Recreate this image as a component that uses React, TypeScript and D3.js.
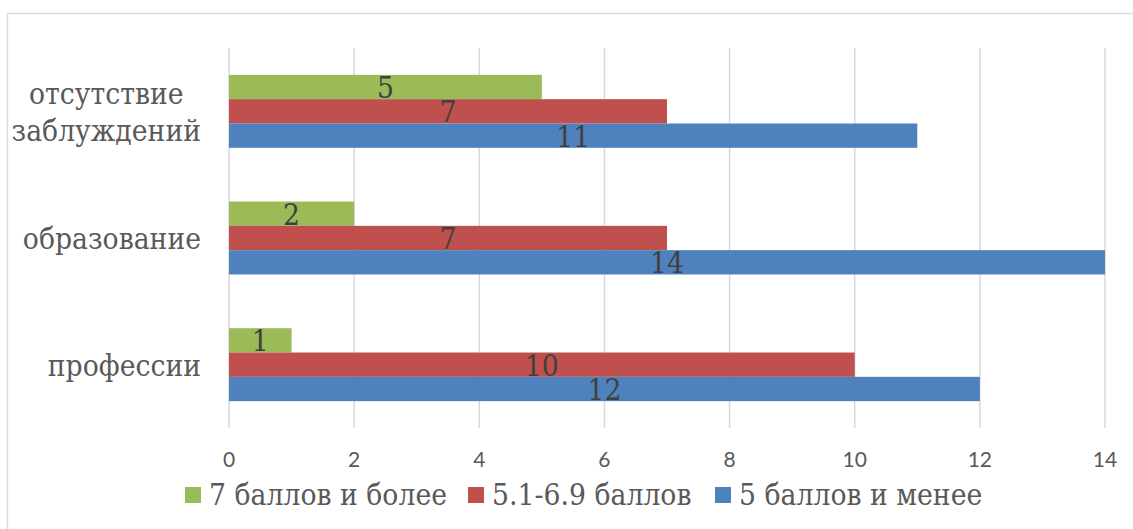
import React, { useEffect, useRef } from "react";
import * as d3 from "d3";

const categories = ["отсутствие заблуждений", "образование", "профессии"];
const categoryLines: string[][] = [["отсутствие", "заблуждений"], ["образование"], ["профессии"]];
const seriesNames = ["7 баллов и более", "5.1-6.9 баллов", "5 баллов и менее"];
const seriesColors = ["#9BBB59", "#C0504D", "#4F81BD"];
const green7 = [5, 2, 1];
const red51 = [7, 7, 10];
const blue5 = [11, 14, 12];
const tickValues = [0, 2, 4, 6, 8, 10, 12, 14];

const W = 1133;
const H = 529;
const SERIF = "'DejaVu Serif', serif";
const SERIF_SIZE = 30;
const SQUEEZE = 0.89;

function squeeze(sel: d3.Selection<SVGTextElement, any, any, any>) {
  sel.each(function () {
    const w = this.getComputedTextLength();
    d3.select(this).attr("textLength", w * SQUEEZE).attr("lengthAdjust", "spacingAndGlyphs");
  });
  return sel;
}

export default function App() {
  const ref = useRef<SVGSVGElement>(null);
  useEffect(() => {
    const svg = d3.select(ref.current);
    svg.selectAll("*").remove();
    const seriesValues = [green7, red51, blue5];

    const x = d3.scaleLinear().domain([0, 14]).range([229, 1105]);
    const y = d3
      .scaleBand<string>()
      .domain(categories)
      .range([48, 428])
      .paddingInner(0.424)
      .paddingOuter(0.212);
    const ys = d3
      .scaleBand<string>()
      .domain(seriesNames)
      .range([0, y.bandwidth()])
      .padding(0);

    svg
      .append("rect")
      .attr("x", 7.5)
      .attr("y", 13.5)
      .attr("width", W + 20)
      .attr("height", H + 20)
      .attr("fill", "#fff")
      .attr("stroke", "#d9d9d9")
      .attr("stroke-width", 1.3);

    svg
      .append("g")
      .selectAll("line")
      .data(tickValues)
      .join("line")
      .attr("x1", (d) => x(d))
      .attr("x2", (d) => x(d))
      .attr("y1", 48)
      .attr("y2", 428)
      .attr("stroke", "#d9d9d9")
      .attr("stroke-width", 1.5);

    svg
      .append("g")
      .selectAll("text")
      .data(tickValues)
      .join("text")
      .attr("x", (d) => x(d))
      .attr("y", 467)
      .attr("text-anchor", "middle")
      .attr("font-family", "Lato, sans-serif")
      .attr("font-size", 21)
      .attr("fill", "#595959")
      .text((d) => String(d));

    seriesNames.forEach((s, si) => {
      const g = svg.append("g");
      const vals = seriesValues[si];
      g.selectAll("rect")
        .data(categories)
        .join("rect")
        .attr("x", x(0))
        .attr("y", (c) => (y(c) as number) + (ys(s) as number))
        .attr("width", (c, i) => x(vals[i]) - x(0))
        .attr("height", ys.bandwidth())
        .attr("fill", seriesColors[si]);
      const labels = g
        .selectAll<SVGTextElement, string>("text")
        .data(categories)
        .join("text")
        .attr("x", (c, i) => (x(vals[i]) + x(0)) / 2)
        .attr("y", (c) => (y(c) as number) + (ys(s) as number) + ys.bandwidth() / 2 + 11)
        .attr("text-anchor", "middle")
        .attr("font-family", SERIF)
        .attr("font-size", SERIF_SIZE)
        .attr("fill", "#404040")
        .text((c, i) => String(vals[i]));
      squeeze(labels);
    });

    const rightEdge = 201;
    const lineH = 37;
    categories.forEach((c, ci) => {
      const lines = categoryLines[ci];
      const center = (y(c) as number) + y.bandwidth() / 2;
      const texts = lines.map((ln, li) =>
        svg
          .append("text")
          .attr("font-family", SERIF)
          .attr("font-size", SERIF_SIZE)
          .attr("fill", "#595959")
          .attr("text-anchor", "middle")
          .attr("y", center + 11 + (li - (lines.length - 1) / 2) * lineH)
          .text(ln)
      );
      const widths = texts.map((t) => (t.node() as SVGTextElement).getComputedTextLength() * SQUEEZE);
      const maxW = d3.max(widths) || 0;
      texts.forEach((t, i) =>
        t
          .attr("x", rightEdge - maxW / 2)
          .attr("textLength", widths[i])
          .attr("lengthAdjust", "spacingAndGlyphs")
      );
    });

    const legX = [185, 468, 715];
    seriesNames.forEach((s, si) => {
      svg
        .append("rect")
        .attr("x", legX[si])
        .attr("y", 487)
        .attr("width", 16)
        .attr("height", 16)
        .attr("fill", seriesColors[si]);
      const t = svg
        .append("text")
        .attr("x", legX[si] + 24)
        .attr("y", 505)
        .attr("font-family", SERIF)
        .attr("font-size", SERIF_SIZE)
        .attr("fill", "#595959")
        .text(s);
      squeeze(t as any);
    });
  }, []);

  return (
    <div style={{ position: "fixed", left: 0, top: 0, width: W, height: H, background: "#fff" }}>
      <svg ref={ref} width={W} height={H} style={{ display: "block" }} />
    </div>
  );
}
